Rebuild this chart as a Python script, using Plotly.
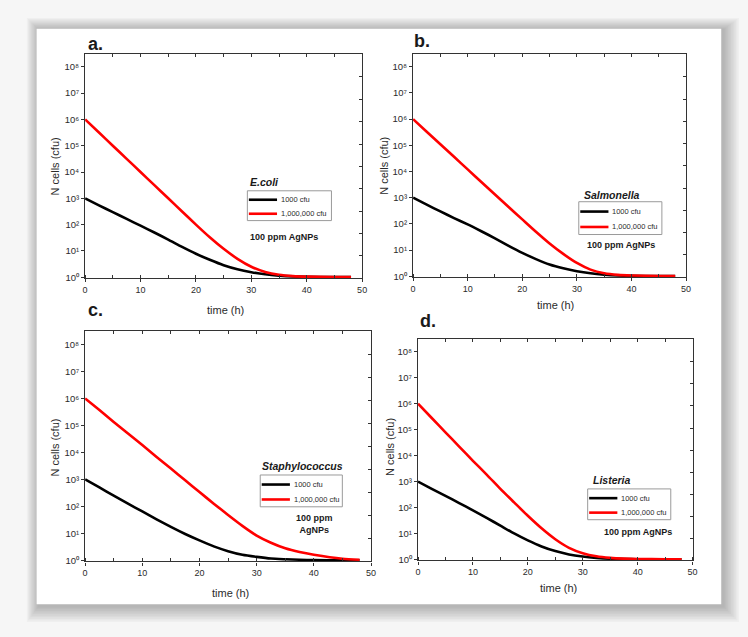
import plotly.graph_objects as go

# ---------------- data ----------------
time_h = [0, 2.5, 5, 7.5, 10, 12.5, 15, 17.5, 20, 22.5, 25, 27.5, 30, 32.5, 35, 37.5, 40, 45, 48]

ecoli_1000 = [1000, 540, 298, 164, 91, 50, 27, 14.2, 7.8, 4.6, 2.85, 2.0, 1.55, 1.29, 1.15, 1.07, 1.035, 1.01, 1.007]
ecoli_1e6 = [1e6, 316000, 100000, 31600, 10000, 3160, 1000, 316, 100, 33, 12, 5.0, 2.5, 1.58, 1.23, 1.1, 1.05, 1.02, 1.02]

salm_1000 = [1000, 540, 298, 166, 95, 52, 28, 14.5, 7.8, 4.5, 2.8, 2.0, 1.55, 1.29, 1.15, 1.07, 1.035, 1.01, 1.007]
salm_1e6 = [1e6, 331000, 110000, 36300, 12000, 3980, 1320, 437, 148, 50, 17.8, 7.1, 3.2, 1.78, 1.29, 1.12, 1.06, 1.02, 1.02]

staph_1000 = [1000, 501, 251, 126, 65, 33, 17.4, 9.5, 5.5, 3.3, 2.2, 1.62, 1.35, 1.17, 1.1, 1.05, 1.02, 1.01, 1.007]
staph_1e6 = [1e6, 372000, 135000, 50100, 18600, 6760, 2510, 933, 339, 126, 48, 19, 8.3, 4.5, 2.8, 2.04, 1.62, 1.15, 1.05]

list_1000 = [1000, 525, 282, 148, 78, 40, 20, 10, 5.4, 3.16, 2.09, 1.55, 1.29, 1.15, 1.07, 1.035, 1.02, 1.007, 1.005]
list_1e6 = [1e6, 282000, 79400, 22400, 6310, 1860, 525, 158, 48, 15.8, 6.0, 2.8, 1.74, 1.32, 1.15, 1.07, 1.035, 1.02, 1.014]

panel_letters = ["a.", "b.", "c.", "d."]
species = ["E.coli", "Salmonella", "Staphylococcus", "Listeria"]
series_names = ["1000 cfu", "1,000,000 cfu"]
treatment = ["100 ppm AgNPs", "100 ppm AgNPs", "100 ppm<br>AgNPs", "100 ppm AgNPs"]
x_ticks = [0, 10, 20, 30, 40, 50]
y_tickvals = [10 ** k for k in range(9)]
y_ticktext = ["10⁰", "10¹", "10²", "10³", "10⁴", "10⁵", "10⁶", "10⁷", "10⁸"]

series = [(ecoli_1000, ecoli_1e6), (salm_1000, salm_1e6), (staph_1000, staph_1e6), (list_1000, list_1e6)]
colors = ["#000000", "#ff0000"]

# ---------------- layout geometry (pixels) ----------------
W, H = 748, 637
FONT = "Liberation Sans, Arial, sans-serif"
TXT = "#2b2b2b"


def px(x):
    return x / W


def py(y):
    return 1 - y / H


# plot areas: (left, right, top, bottom)
boxes = [(83, 363, 54, 280), (414.5, 690.5, 54, 279), (83, 372, 333, 565), (419.5, 697, 341, 564)]
letter_pos = [(84, 44), (413, 41), (84, 312), (419, 323)]
ytitle_pos = [(53, 167), (385, 167), (53, 450), (391, 450)]
xtitle_pos = [(225, 312), (558, 307), (230, 597), (562, 592)]
# legend: (box left, box top, box right, box bottom)
legend_box = [(247, 192, 332, 222), (582, 203, 666, 236), (260, 478, 343, 510), (591, 492, 675, 523)]
title_pos = [(248, 183), (585, 196), (260, 469), (594, 483)]
treat_pos = [(248, 239, "left"), (625, 247, "center"), (315, 527, "center"), (605, 535, "left")]

fig = go.Figure()
shapes = []
annotations = []

# card shadow + card
for i in range(10, 0, -1):
    shapes.append(dict(type="rect", xref="paper", yref="paper", layer="below",
                       x0=px(34 - i * 1.2 + 2), x1=px(726 + i * 1.6 + 2), y0=py(608 + i * 1.6 + 2), y1=py(29 - i * 1.2 + 1),
                       line=dict(width=0), fillcolor="rgba(0,0,0,0.028)"))
shapes.append(dict(type="rect", xref="paper", yref="paper", layer="below",
                   x0=px(34), x1=px(726), y0=py(608), y1=py(29),
                   line=dict(width=0), fillcolor="#ffffff"))

layout_axes = {}
for i in range(4):
    n = i + 1
    L, R, T, B = boxes[i]
    xd = [px(L), px(R)]
    yd = [py(B), py(T)]
    sfx = "" if n == 1 else str(n)
    lo, hi = series[i]
    for vals, name, col in [(lo, series_names[0], colors[0]), (hi, series_names[1], colors[1])]:
        fig.add_trace(go.Scatter(x=time_h, y=vals, mode="lines", name=name,
                                 line=dict(color=col, width=2.6, shape="spline", smoothing=0.6),
                                 xaxis="x" + sfx, yaxis="y" + sfx, showlegend=False))
    # dummy trace for overlay axes (top/right inner ticks)
    fig.add_trace(go.Scatter(x=[None], y=[None], xaxis="x%d" % (n + 4), yaxis="y%d" % (n + 4),
                             showlegend=False, hoverinfo="skip"))

    layout_axes["xaxis" + sfx] = dict(
        domain=xd, anchor="y" + sfx, range=[0, 50], tickvals=x_ticks,
        ticks="outside", ticklen=3, tickwidth=1, tickcolor="#333",
        minor=dict(dtick=5, tick0=0, ticks="inside", ticklen=3, tickcolor="#333", showgrid=False),
        showline=True, linecolor="#333", linewidth=1.2, mirror=True,
        showgrid=False, zeroline=False, tickfont=dict(family=FONT, size=9, color=TXT))
    layout_axes["yaxis" + sfx] = dict(
        domain=yd, anchor="x" + sfx, type="log", range=[-0.04, 8.5],
        tickvals=y_tickvals, ticktext=y_ticktext,
        ticks="outside", ticklen=3, tickwidth=1, tickcolor="#333",
        showline=True, linecolor="#333", linewidth=1.2, mirror=True,
        showgrid=False, zeroline=False, tickfont=dict(family=FONT, size=9.5, color=TXT))
    layout_axes["xaxis%d" % (n + 4)] = dict(
        overlaying="x" + sfx, anchor="y" + sfx, side="top", range=[0, 50], dtick=5, tick0=0,
        ticks="inside", ticklen=3, tickcolor="#333", showticklabels=False,
        showline=False, showgrid=False, zeroline=False)
    layout_axes["yaxis%d" % (n + 4)] = dict(
        overlaying="y" + sfx, anchor="x" + sfx, side="right", range=[0, 5.02], dtick=0.5, tick0=0,
        ticks="inside", ticklen=3, tickcolor="#333", showticklabels=False,
        showline=False, showgrid=False, zeroline=False)

    # panel letter
    lx, ly = letter_pos[i]
    annotations.append(dict(text="<b>%s</b>" % panel_letters[i], x=px(lx), y=py(ly), xref="paper", yref="paper",
                            xanchor="left", yanchor="middle", showarrow=False,
                            font=dict(family=FONT, size=18, color="#1a1a1a")))
    # axis titles
    tx, ty = ytitle_pos[i]
    annotations.append(dict(text="N cells (cfu)", x=px(tx), y=py(ty), xref="paper", yref="paper",
                            textangle=-90, showarrow=False, xanchor="center", yanchor="middle",
                            font=dict(family=FONT, size=11, color=TXT)))
    tx, ty = xtitle_pos[i]
    annotations.append(dict(text="time (h)", x=px(tx), y=py(ty), xref="paper", yref="paper",
                            showarrow=False, xanchor="center", yanchor="middle",
                            font=dict(family=FONT, size=11, color=TXT)))
    # species title
    sx, sy = title_pos[i]
    annotations.append(dict(text="<b><i>%s</i></b>" % species[i], x=px(sx), y=py(sy), xref="paper", yref="paper",
                            showarrow=False, xanchor="left", yanchor="middle",
                            font=dict(family=FONT, size=10.5, color="#1a1a1a")))
    # legend box
    bl, bt, br, bb = legend_box[i]
    shapes.append(dict(type="rect", xref="paper", yref="paper", x0=px(bl), x1=px(br), y0=py(bb), y1=py(bt),
                       line=dict(color="#9a9a9a", width=1), fillcolor="rgba(255,255,255,0)"))
    rows = [bt + (bb - bt) * 0.3, bt + (bb - bt) * 0.77]
    for k in range(2):
        shapes.append(dict(type="line", xref="paper", yref="paper", x0=px(bl + 1.5), x1=px(bl + 30),
                           y0=py(rows[k]), y1=py(rows[k]), line=dict(color=colors[k], width=2.6)))
        annotations.append(dict(text=series_names[k], x=px(bl + 32), y=py(rows[k]), xref="paper", yref="paper",
                                showarrow=False, xanchor="left", yanchor="middle",
                                font=dict(family=FONT, size=7.5, color=TXT)))
    # treatment label
    ax_, ay_, al = treat_pos[i]
    annotations.append(dict(text="<b>%s</b>" % treatment[i], x=px(ax_), y=py(ay_), xref="paper", yref="paper",
                            showarrow=False, xanchor=al, yanchor="middle", align="center",
                            font=dict(family=FONT, size=9, color="#1a1a1a")))

fig.update_layout(
    width=W, height=H, autosize=False,
    margin=dict(l=0, r=0, t=0, b=0),
    paper_bgcolor="#f6f6f6", plot_bgcolor="rgba(0,0,0,0)",
    showlegend=False,
    shapes=shapes, annotations=annotations,
    **layout_axes,
)

fig.write_html("out.html")
